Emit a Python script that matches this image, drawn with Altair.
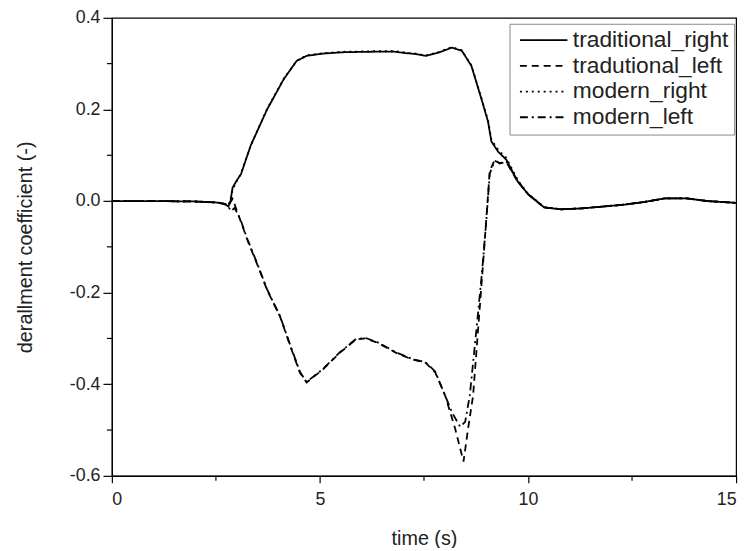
import altair as alt
import pandas as pd

# ---------------- data ----------------
series_names = ["traditional_right", "tradutional_left", "modern_right", "modern_left"]

t_right = [0, 1, 2, 2.5, 2.7, 2.8, 2.85, 2.9, 3.0, 3.1, 3.34, 3.73, 4.13, 4.44, 4.68,
           5.08, 5.6, 6.27, 6.8, 7.06, 7.3, 7.54, 7.85, 8.17, 8.41, 8.64, 8.88, 9.04,
           9.12, 9.28, 9.48, 9.75, 10.0, 10.39, 10.8, 11.3, 11.8, 12.3, 12.8, 13.3,
           13.8, 14.3, 15]
v_trad_right = [0, 0, -0.001, -0.003, -0.006, -0.012, 0.0, 0.029, 0.045, 0.058, 0.122,
                0.200, 0.266, 0.306, 0.317, 0.322, 0.325, 0.326, 0.326, 0.323, 0.321,
                0.317, 0.324, 0.335, 0.328, 0.295, 0.223, 0.173, 0.130, 0.108, 0.090,
                0.043, 0.015, -0.014, -0.018, -0.016, -0.012, -0.008, -0.002, 0.006,
                0.006, 0.000, -0.004]
v_mod_right = [0, 0, -0.001, -0.003, -0.005, -0.010, 0.004, 0.025, 0.043, 0.060, 0.122,
               0.201, 0.267, 0.306, 0.318, 0.323, 0.326, 0.327, 0.327, 0.324, 0.322,
               0.318, 0.325, 0.336, 0.329, 0.296, 0.225, 0.176, 0.134, 0.112, 0.094,
               0.046, 0.016, -0.013, -0.018, -0.016, -0.012, -0.008, -0.002, 0.006,
               0.006, 0.000, -0.004]

t_trad_left = [0, 1, 2, 2.5, 2.7, 2.8, 2.9, 3.0, 3.1, 3.26, 3.5, 3.73, 4.04, 4.3, 4.52,
               4.68, 5.08, 5.48, 5.87, 6.1, 6.4, 6.82, 7.22, 7.54, 7.77, 8.01, 8.25,
               8.45, 8.56, 8.68, 8.80, 8.92, 9.0, 9.08, 9.2, 9.32, 9.48, 9.75, 10.0,
               10.39, 10.8, 11.3, 11.8, 12.3, 12.8, 13.3, 13.8, 14.3, 15]
v_trad_left = [0, 0, -0.001, -0.003, -0.006, -0.010, 0.005, -0.020, -0.045, -0.086,
               -0.140, -0.194, -0.252, -0.320, -0.375, -0.396, -0.367, -0.331, -0.302,
               -0.300, -0.310, -0.331, -0.346, -0.353, -0.374, -0.425, -0.497, -0.569,
               -0.497, -0.425, -0.281, -0.137, -0.036, 0.065, 0.090, 0.082, 0.085,
               0.043, 0.015, -0.014, -0.018, -0.016, -0.012, -0.008, -0.002, 0.006,
               0.006, 0.000, -0.004]

t_mod_left = [0, 1, 2, 2.5, 2.7, 2.8, 2.86, 2.95, 3.1, 3.26, 3.5, 3.73, 4.04, 4.3, 4.52,
              4.68, 5.08, 5.48, 5.87, 6.1, 6.4, 6.82, 7.22, 7.54, 7.77, 8.01, 8.17,
              8.37, 8.49, 8.60, 8.76, 8.90, 9.0, 9.08, 9.2, 9.32, 9.48, 9.75, 10.0,
              10.39, 10.8, 11.3, 11.8, 12.3, 12.8, 13.3, 13.8, 14.3, 15]
v_mod_left = [0, 0, -0.001, -0.003, -0.006, -0.012, -0.022, -0.015, -0.043, -0.084,
              -0.138, -0.193, -0.251, -0.318, -0.373, -0.395, -0.366, -0.330, -0.301,
              -0.299, -0.309, -0.330, -0.345, -0.352, -0.372, -0.425, -0.461, -0.493,
              -0.482, -0.425, -0.281, -0.150, -0.040, 0.060, 0.088, 0.083, 0.086,
              0.044, 0.015, -0.014, -0.018, -0.016, -0.012, -0.008, -0.002, 0.006,
              0.006, 0.000, -0.004]

x_major = [0, 5, 10, 15]
x_minor = [2.5, 7.5, 12.5]
y_major = [-0.6, -0.4, -0.2, 0.0, 0.2, 0.4]
y_minor = [-0.5, -0.3, -0.1, 0.1, 0.3]

dash_styles = [[1, 0], [7, 5], [2, 4], [8, 4, 2, 4]]

# ---------------- tables ----------------
rows = []
for name, ts, vs in [
    ("traditional_right", t_right, v_trad_right),
    ("tradutional_left", t_trad_left, v_trad_left),
    ("modern_right", t_right, v_mod_right),
    ("modern_left", t_mod_left, v_mod_left),
]:
    for i, (t, v) in enumerate(zip(ts, vs)):
        rows.append({"series": name, "t": t, "v": v, "order": i})
df = pd.DataFrame(rows)

xminor_df = pd.DataFrame({"t": x_minor})
yminor_df = pd.DataFrame({"v": y_minor})

FONT = "Liberation Sans"
W, H = 631, 463

xscale = alt.Scale(domain=[0, 15], nice=False, zero=False)
yscale = alt.Scale(domain=[-0.6, 0.4], nice=False, zero=False)

lines = alt.Chart(df).mark_line(color="black", strokeWidth=1.8).encode(
    x=alt.X("t:Q", scale=xscale,
            axis=alt.Axis(values=x_major, title="time (s)", format="d",
                          tickSize=7, labelPadding=8, titlePadding=20,
                          grid=False)),
    y=alt.Y("v:Q", scale=yscale,
            axis=alt.Axis(values=y_major, title="derallment coefficient (-)",
                          labelExpr="replace(format(datum.value, '.1f'), '\u2212', '-')",
                          tickSize=9, labelPadding=3, titlePadding=34,
                          grid=False)),
    strokeDash=alt.StrokeDash(
        "series:N",
        scale=alt.Scale(domain=series_names, range=dash_styles),
        sort=series_names,
        legend=alt.Legend(
            title=None, orient="none", legendX=402, legendY=6,
            symbolType="M-1,0H7", symbolSize=144, symbolStrokeWidth=1.8,
            symbolStrokeColor="black", symbolFillColor="transparent",
            labelFontSize=23, labelFont=FONT, labelColor="#222",
            rowPadding=2, padding=5, labelOffset=36,
            strokeColor="#888", fillColor="white", cornerRadius=0,
        ),
    ),
    order="order:Q",
)

xminor = alt.Chart(xminor_df).mark_rule(color="black", strokeWidth=1.2).encode(
    x=alt.X("t:Q", scale=xscale),
    y=alt.value(H), y2=alt.value(H + 5),
)
yminor = alt.Chart(yminor_df).mark_rule(color="black", strokeWidth=1.2).encode(
    y=alt.Y("v:Q", scale=yscale),
    x=alt.value(0), x2=alt.value(-5),
)

chart = alt.layer(lines, xminor, yminor).properties(
    width=W, height=H,
    background="white",
    autosize=alt.AutoSizeParams(type="none"),
    padding={"left": 105, "top": 7, "right": 8, "bottom": 70},
).configure_view(
    stroke="black", strokeWidth=1.2
).configure_axis(
    domainColor="black", domainWidth=1.2, tickColor="black", tickWidth=1.2,
    labelFont=FONT, titleFont=FONT, labelFontSize=18, titleFontSize=20,
    labelColor="#222", titleColor="#222", titleFontWeight="normal",
)

chart.save("out.html", embed_options={"renderer": "svg", "actions": False})
